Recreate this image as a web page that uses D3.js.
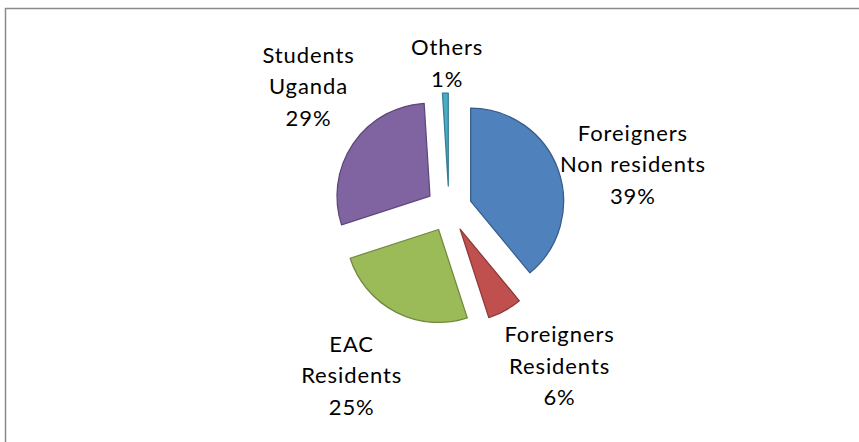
<!DOCTYPE html>
<html>
<head>
<meta charset="utf-8">
<script src="https://cdn.jsdelivr.net/npm/d3@7"></script>
<style>
  html, body { margin: 0; padding: 0; background: #fff; }
  svg { display: block; }
  .lbl { font-family: Lato, "Open Sans", sans-serif; font-size: 22px; fill: #000; letter-spacing: 0.9px; }
</style>
</head>
<body>
<svg id="chart" width="859" height="442"></svg>
<script>
// Visitor categories (clockwise from 12 o'clock) and their shares in percent
const categories = ["Foreigners\nNon residents", "Foreigners\nResidents", "EAC\nResidents", "Students\nUganda", "Others"];
const shares = [39, 6, 25, 29, 1];

const fills   = ["#4F81BD", "#C0504D", "#9BBB59", "#8064A2", "#4BACC6"];
const strokes = ["#385D8A", "#8C3836", "#71893F", "#5C4776", "#357D91"];

// Pie geometry
const cx = 449, cy = 209;
const radius = 93;
const explode = 23;
const labelRadius = 188;
const lineGap = 31.5;
const capHalf = 7.8;
// Per-label nudges from the default outside-end position
const labelNudge = [[7, 19], [20, -8], [-12, -1], [15, -17], [4, 42]];

const svg = d3.select("#chart");

// Chart area frame
svg.append("rect")
  .attr("x", 5.5).attr("y", 8.5)
  .attr("width", 900).attr("height", 500)
  .attr("fill", "#fff")
  .attr("stroke", "#8a8a8a")
  .attr("stroke-width", 1.5);

const data = categories.map((c, i) => ({ name: c, value: shares[i], i }));
const total = d3.sum(shares);
const pct = d3.format(".0%");

const pie = d3.pie().value(d => d.value).sort(null).startAngle(0).endAngle(2 * Math.PI);
const arc = d3.arc().innerRadius(0).outerRadius(radius);
const arcs = pie(data);

const g = svg.append("g").attr("transform", `translate(${cx},${cy})`);

g.selectAll("path.slice")
  .data(arcs)
  .join("path")
  .attr("class", "slice")
  .attr("d", arc)
  .attr("transform", d => {
    const a = (d.startAngle + d.endAngle) / 2;
    return `translate(${Math.sin(a) * explode},${-Math.cos(a) * explode})`;
  })
  .attr("fill", d => fills[d.data.i])
  .attr("stroke", d => strokes[d.data.i])
  .attr("stroke-width", 1.25)
  .attr("stroke-linejoin", "round");

// Data labels: category name (wrapped) plus percentage
const labels = g.selectAll("text.lbl")
  .data(arcs)
  .join("text")
  .attr("class", "lbl")
  .attr("text-anchor", "middle");

labels.each(function(d) {
  const a = (d.startAngle + d.endAngle) / 2;
  const nudge = labelNudge[d.data.i];
  const x = Math.sin(a) * labelRadius + nudge[0];
  const y = -Math.cos(a) * labelRadius + nudge[1];
  const lines = d.data.name.split("\n").concat(pct(d.data.value / total));
  const t = d3.select(this);
  lines.forEach((ln, k) => {
    t.append("tspan")
      .attr("x", x)
      .attr("y", y + (k - (lines.length - 1) / 2) * lineGap + capHalf)
      .text(ln);
  });
});
</script>
</body>
</html>
